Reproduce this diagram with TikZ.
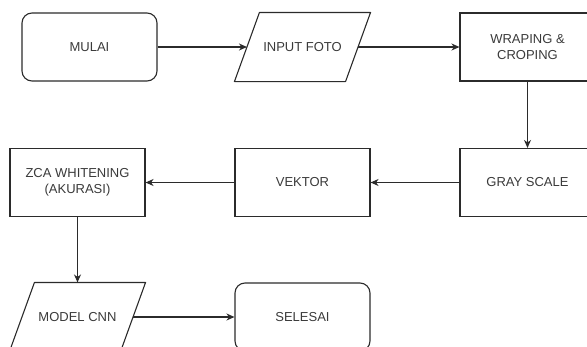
\documentclass[tikz,border=0pt]{standalone}
\usepackage{fontspec}
\setmainfont{Liberation Sans}
\usetikzlibrary{arrows.meta}
\definecolor{ln}{HTML}{2B2B2B}
\definecolor{tx}{HTML}{3A3A3A}
\begin{document}
\begin{tikzpicture}[x=1pt,y=1pt,
  box/.style={draw=ln, line width=1.1pt, minimum width=135pt, minimum height=68pt, inner sep=0pt, align=center, text=tx, font=\fontsize{13}{16}\selectfont},
  term/.style={box, rounded corners=10pt},
  iobox/.style={box, draw=none},
  arr/.style={draw=ln, line width=1.1pt, -{Stealth[length=8pt,width=7pt,inset=2.5pt]}},
  par/.style={draw=ln, line width=1.1pt, line join=round}
]
\useasboundingbox (0,0) rectangle (587,-346);
\node[term] (mulai) at (89.5,-47) {MULAI};
\node[iobox] (input) at (302.5,-47) {INPUT FOTO};
\node[box] (wrap) at (527.5,-47) {WRAPING \&\\CROPING};
\node[box] (gray) at (527.5,-182.5) {GRAY SCALE};
\node[box] (vektor) at (302.5,-182.5) {VEKTOR};
\node[box] (zca) at (77.5,-182.5) {ZCA WHITENING\\(AKURASI)};
\node[iobox] (model) at (77.5,-317) {MODEL CNN};
\node[term] (selesai) at (302.5,-317) {SELESAI};
% parallelograms
\draw[par] ([xshift=25pt]input.north west) -- (input.north east) -- ([xshift=-25pt]input.south east) -- (input.south west) -- cycle;
\draw[par] ([xshift=25pt]model.north west) -- (model.north east) -- ([xshift=-25pt]model.south east) -- (model.south west) -- cycle;
% connectors
\draw[arr] (mulai.east) -- ([xshift=12.5pt]input.west);
\draw[arr] ([xshift=-12.5pt]input.east) -- (wrap.west);
\draw[arr] (wrap.south) -- (gray.north);
\draw[arr] (gray.west) -- (vektor.east);
\draw[arr] (vektor.west) -- (zca.east);
\draw[arr] (zca.south) -- (model.north);
\draw[arr] ([xshift=-12.5pt]model.east) -- (selesai.west);
\end{tikzpicture}
\end{document}
